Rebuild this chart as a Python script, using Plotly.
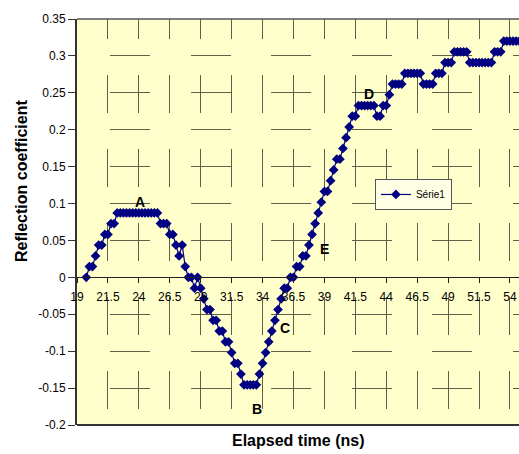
import plotly.graph_objects as go

# ---------------- data ----------------
time_ns = [
    19.75,
    20, 20.25, 20.5, 20.75, 21, 21.25, 21.5, 21.75,
    22, 22.25, 22.5, 22.75, 23, 23.25, 23.5, 23.75,
    24, 24.25, 24.5, 24.75, 25, 25.25, 25.5, 25.75,
    26, 26.25, 26.5, 26.75, 27, 27.25, 27.5, 27.75,
    28, 28.25, 28.5, 28.75, 29, 29.25, 29.5, 29.75,
    30, 30.25, 30.5, 30.75, 31, 31.25, 31.5, 31.75,
    32, 32.25, 32.5, 32.75, 33, 33.25, 33.5, 33.75,
    34, 34.25, 34.5, 34.75, 35, 35.25, 35.5, 35.75,
    36, 36.25, 36.5, 36.75, 37, 37.25, 37.5, 37.75,
    38, 38.25, 38.5, 38.75, 39, 39.25, 39.5, 39.75,
    40, 40.25, 40.5, 40.75, 41, 41.25, 41.5, 41.75,
    42, 42.25, 42.5, 42.75, 43, 43.25, 43.5, 43.75,
    44, 44.25, 44.5, 44.75, 45, 45.25, 45.5, 45.75,
    46, 46.25, 46.5, 46.75, 47, 47.25, 47.5, 47.75,
    48, 48.25, 48.5, 48.75, 49, 49.25, 49.5, 49.75,
    50, 50.25, 50.5, 50.75, 51, 51.25, 51.5, 51.75,
    52, 52.25, 52.5, 52.75, 53, 53.25, 53.5, 53.75,
    54, 54.25, 54.5, 54.75,
]

reflection = [
    0.0,
    0.0146, 0.0146, 0.0291, 0.0437, 0.0437, 0.0582, 0.0582, 0.0728,
    0.0728, 0.0873, 0.0873, 0.0873, 0.0873, 0.0873, 0.0873, 0.0873,
    0.0873, 0.0873, 0.0873, 0.0873, 0.0873, 0.0873, 0.0873, 0.0728,
    0.0728, 0.0728, 0.0582, 0.0582, 0.0437, 0.0291, 0.0437, 0.0146,
    0.0, 0.0, -0.0146, 0.0, -0.0146, -0.0291, -0.0437, -0.0437,
    -0.0582, -0.0582, -0.0728, -0.0728, -0.0873, -0.0873, -0.1019, -0.1164,
    -0.1164, -0.1310, -0.1455, -0.1455, -0.1455, -0.1455, -0.1455, -0.1310,
    -0.1164, -0.1019, -0.0873, -0.0728, -0.0582, -0.0437, -0.0291, -0.0146,
    -0.0146, 0.0, 0.0, 0.0146, 0.0146, 0.0291, 0.0291, 0.0437,
    0.0582, 0.0728, 0.0873, 0.1019, 0.1164, 0.1164, 0.1310, 0.1455,
    0.1601, 0.1601, 0.1746, 0.1892, 0.2037, 0.2183, 0.2183, 0.2328,
    0.2328, 0.2328, 0.2328, 0.2328, 0.2328, 0.2183, 0.2183, 0.2328,
    0.2328, 0.2474, 0.2619, 0.2619, 0.2619, 0.2619, 0.2765, 0.2765,
    0.2765, 0.2765, 0.2765, 0.2765, 0.2619, 0.2619, 0.2619, 0.2619,
    0.2765, 0.2765, 0.2765, 0.2910, 0.2910, 0.2910, 0.3056, 0.3056,
    0.3056, 0.3056, 0.3056, 0.2910, 0.2910, 0.2910, 0.2910, 0.2910,
    0.2910, 0.2910, 0.2910, 0.3056, 0.3056, 0.3056, 0.3201, 0.3201,
    0.3201, 0.3201, 0.3201, 0.3201,
]

series_name = "Série1"

x_tick_vals = [19, 21.5, 24, 26.5, 29, 31.5, 34, 36.5, 39, 41.5, 44, 46.5, 49, 51.5, 54]
x_tick_text = ["19", "21.5", "24", "26.5", "29", "31.5", "34", "36.5", "39",
               "41.5", "44", "46.5", "49", "51.5", "54"]
y_tick_vals = [-0.2, -0.15, -0.1, -0.05, 0, 0.05, 0.1, 0.15, 0.2, 0.25, 0.3, 0.35]
y_tick_text = ["-0.2", "-0.15", "-0.1", "-0.05", "0", "0.05", "0.1", "0.15",
               "0.2", "0.25", "0.3", "0.35"]

point_labels = ["A", "B", "C", "D", "E"]
label_time = [24.1, 33.55, 35.8, 42.6, 39.0]
label_value = [0.102, -0.178, -0.068, 0.248, 0.038]

# ---------------- figure ----------------
FONT = "Liberation Sans, Arial, sans-serif"
GRID = "#5f5f4a"
Y_ZERO_FRAC = 0.2 / 0.55

fig = go.Figure()
fig.add_trace(go.Scatter(
    x=time_ns, y=reflection, mode="lines+markers", name=series_name,
    line=dict(color="#000080", width=1.2),
    marker=dict(symbol="diamond", size=7.5, color="#000080",
                line=dict(width=0)),
    cliponaxis=True,
))

for t, v, s in zip(label_time, label_value, point_labels):
    fig.add_annotation(x=t, y=v, text="<b>%s</b>" % s, showarrow=False,
                       font=dict(family=FONT, size=14, color="black"))

fig.add_annotation(xref="paper", yref="paper", x=0.5, y=-0.039,
                   xanchor="center", yanchor="middle",
                   text="<b>Elapsed time (ns)</b>", showarrow=False,
                   font=dict(family=FONT, size=16, color="black"))
fig.add_annotation(xref="paper", yref="paper", x=-0.1244, y=0.601,
                   xanchor="center", yanchor="middle",
                   text="<b>Reflection coefficient</b>", showarrow=False,
                   textangle=-90,
                   font=dict(family=FONT, size=16, color="black"))

# top and bottom border of the plot area
fig.add_shape(type="line", xref="paper", yref="paper", x0=0, x1=1, y0=1, y1=1,
              line=dict(color="#555555", width=1.5))
fig.add_shape(type="line", xref="paper", yref="paper", x0=0, x1=1, y0=0, y1=0,
              line=dict(color="#333333", width=2))

fig.update_layout(
    width=519, height=454,
    margin=dict(l=77, r=0, t=19, b=29),
    paper_bgcolor="white", plot_bgcolor="#FFFFCC",
    font=dict(family=FONT, size=12, color="black"),
    showlegend=True,
    legend=dict(x=0.674, y=0.606, xanchor="left", yanchor="top",
                bgcolor="#FFFFE6", bordercolor="#555555", borderwidth=1,
                font=dict(family=FONT, size=10, color="black"),
                itemwidth=30, tracegroupgap=0),
    xaxis=dict(range=[19, 54.73], tickmode="array", tickvals=x_tick_vals,
               ticktext=x_tick_text, anchor="free", position=Y_ZERO_FRAC,
               showline=True, linecolor="#222222", linewidth=1,
               ticks="outside", ticklen=5, tickcolor="#222222",
               ticklabelstandoff=3,
               showgrid=True, gridcolor=GRID, gridwidth=1,
               griddash="20px,36px,18px,0px",
               zeroline=False, tickfont=dict(size=12, color="black")),
    xaxis2=dict(range=[19, 54.73], tickmode="array", tickvals=x_tick_vals,
                overlaying="x", matches="x", anchor="free",
                position=Y_ZERO_FRAC, side="bottom",
                showline=False, ticks="inside", ticklen=5,
                tickcolor="#222222", showticklabels=False,
                showgrid=False, zeroline=False),
    yaxis=dict(range=[-0.2, 0.35], tickmode="array", tickvals=y_tick_vals,
               ticktext=y_tick_text, showline=True, linecolor="#333333",
               linewidth=2, ticks="outside", ticklen=7, tickcolor="#333333",
               showgrid=True, gridcolor=GRID, gridwidth=1,
               griddash="0px,33px,40px,7.5px",
               zeroline=False, tickfont=dict(size=12, color="black")),
)

fig.write_html("out.html")
